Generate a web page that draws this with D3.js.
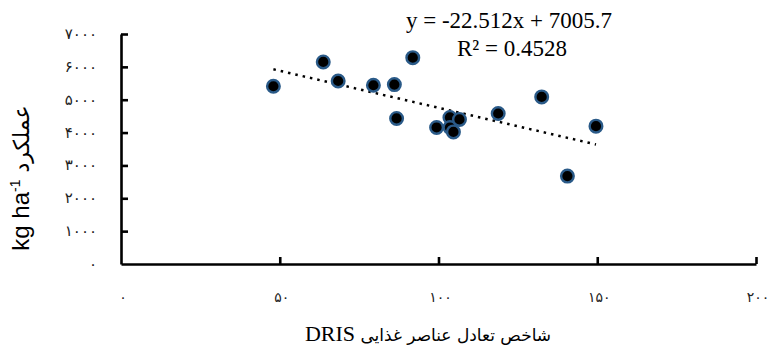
<!DOCTYPE html>
<html>
<head>
<meta charset="utf-8">
<script src="https://cdn.jsdelivr.net/npm/d3@7"></script>
<style>
  body { margin: 0; background: #fff; }
  svg { display: block; }
</style>
</head>
<body>
<svg id="chart" width="770" height="353"></svg>
<script>
// DRIS index vs yield (kg/ha)
var drisIndex = [48.0, 63.7, 68.4, 79.5, 86.1, 86.8, 91.9, 99.4, 103.6, 103.6, 104.7, 106.6, 118.8, 132.5, 140.6, 149.6];
var yieldKg   = [5410, 6150, 5570, 5440, 5460, 4430, 6280, 4155, 4460, 4155, 4020, 4400, 4580, 5085, 2675, 4195];

var xTicks = [0, 50, 100, 150, 200];
var xTickLabels = ["۰", "۵۰", "۱۰۰", "۱۵۰", "۲۰۰"];
var yTicks = [0, 1000, 2000, 3000, 4000, 5000, 6000, 7000];
var yTickLabels = ["۰", "۱۰۰۰", "۲۰۰۰", "۳۰۰۰", "۴۰۰۰", "۵۰۰۰", "۶۰۰۰", "۷۰۰۰"];

var trendCoef = [-22.512, 7005.7];   // slope, intercept
var trendText = ["y = -22.512x + 7005.7", "R² = 0.4528"];

var svg = d3.select("#chart");
var margin = {top: 34, right: 14, bottom: 89, left: 121};
var width = 770 - margin.left - margin.right,
    height = 353 - margin.top - margin.bottom;

var x = d3.scaleLinear().domain([0, 200]).range([0, width]);
var y = d3.scaleLinear().domain([0, 7000]).range([height, 0]);

var g = svg.append("g").attr("transform", "translate(" + margin.left + "," + margin.top + ")");

// axes - ticks point inward, labels drawn separately
var xAxis = d3.axisBottom(x).tickValues(xTicks).tickSize(-7).tickFormat("").tickSizeOuter(0);
var yAxis = d3.axisLeft(y).tickValues(yTicks).tickSize(-7).tickFormat("").tickSizeOuter(0);

var gx = g.append("g").attr("transform", "translate(0," + height + ")").call(xAxis);
var gy = g.append("g").call(yAxis);
[gx, gy].forEach(function(a) {
  a.select(".domain").attr("stroke", "#000").attr("stroke-width", 2.6);
  a.selectAll(".tick line").attr("stroke", "#000").attr("stroke-width", 2.6);
});
gx.selectAll(".tick").filter(function(d) { return d === 0; }).select("line").remove();
gy.selectAll(".tick").filter(function(d) { return d === 0; }).select("line").remove();

// tick labels (Persian digits)
g.selectAll(".xlab").data(xTicks).enter().append("text")
  .attr("x", function(d) { return x(d) + 2; })
  .attr("y", height + 38)
  .attr("text-anchor", "middle")
  .style("font-family", "DejaVu Sans")
  .style("font-size", "14px")
  .style("letter-spacing", "4px")
  .attr("fill", "#222")
  .text(function(d, i) { return xTickLabels[i]; });

g.selectAll(".ylab").data(yTicks).enter().append("text")
  .attr("x", -24)
  .attr("y", function(d) { return y(d) + 5; })
  .attr("text-anchor", "end")
  .style("font-family", "DejaVu Sans")
  .style("font-size", "15px")
  .style("letter-spacing", "5px")
  .attr("fill", "#222")
  .text(function(d, i) { return yTickLabels[i]; });

// trend line
var x0 = d3.min(drisIndex), x1 = d3.max(drisIndex);
g.append("line")
  .attr("x1", x(x0)).attr("y1", y(trendCoef[0] * x0 + trendCoef[1]))
  .attr("x2", x(x1)).attr("y2", y(trendCoef[0] * x1 + trendCoef[1]))
  .attr("stroke", "#000")
  .attr("stroke-width", 2.5)
  .attr("stroke-dasharray", "2.5,5");

// points
g.selectAll("circle").data(drisIndex).enter().append("circle")
  .attr("cx", function(d) { return x(d); })
  .attr("cy", function(d, i) { return y(yieldKg[i]); })
  .attr("r", 6.3)
  .attr("fill", "#000")
  .attr("stroke", "#2a5a88")
  .attr("stroke-width", 2.4);

// equation
svg.append("text").attr("x", 509).attr("y", 28).attr("text-anchor", "middle")
  .style("font-family", "Liberation Serif").style("font-size", "23px")
  .text(trendText[0]);
svg.append("text").attr("x", 512).attr("y", 56).attr("text-anchor", "middle")
  .style("font-family", "Liberation Serif").style("font-size", "23px")
  .text(trendText[1]);

// x axis title
var xt = svg.append("text").attr("x", 428).attr("y", 341).attr("text-anchor", "middle")
  .attr("direction", "rtl");
xt.append("tspan").style("font-family", "DejaVu Sans").style("font-size", "17px")
  .text("شاخص تعادل عناصر غذایی ");
xt.append("tspan").style("font-family", "Liberation Serif").style("font-size", "22px")
  .text("DRIS");

// y axis title
var yt = svg.append("text")
  .attr("transform", "translate(29,178) rotate(-90)")
  .attr("text-anchor", "middle");
yt.append("tspan").style("font-family", "Liberation Sans").style("font-size", "24px").text("kg ha");
yt.append("tspan").style("font-family", "Liberation Sans").style("font-size", "14px").attr("dy", -9).text("-1");
yt.append("tspan").style("font-family", "DejaVu Sans").style("font-size", "22px").attr("dy", 9).text(" عملکرد");
</script>
</body>
</html>
